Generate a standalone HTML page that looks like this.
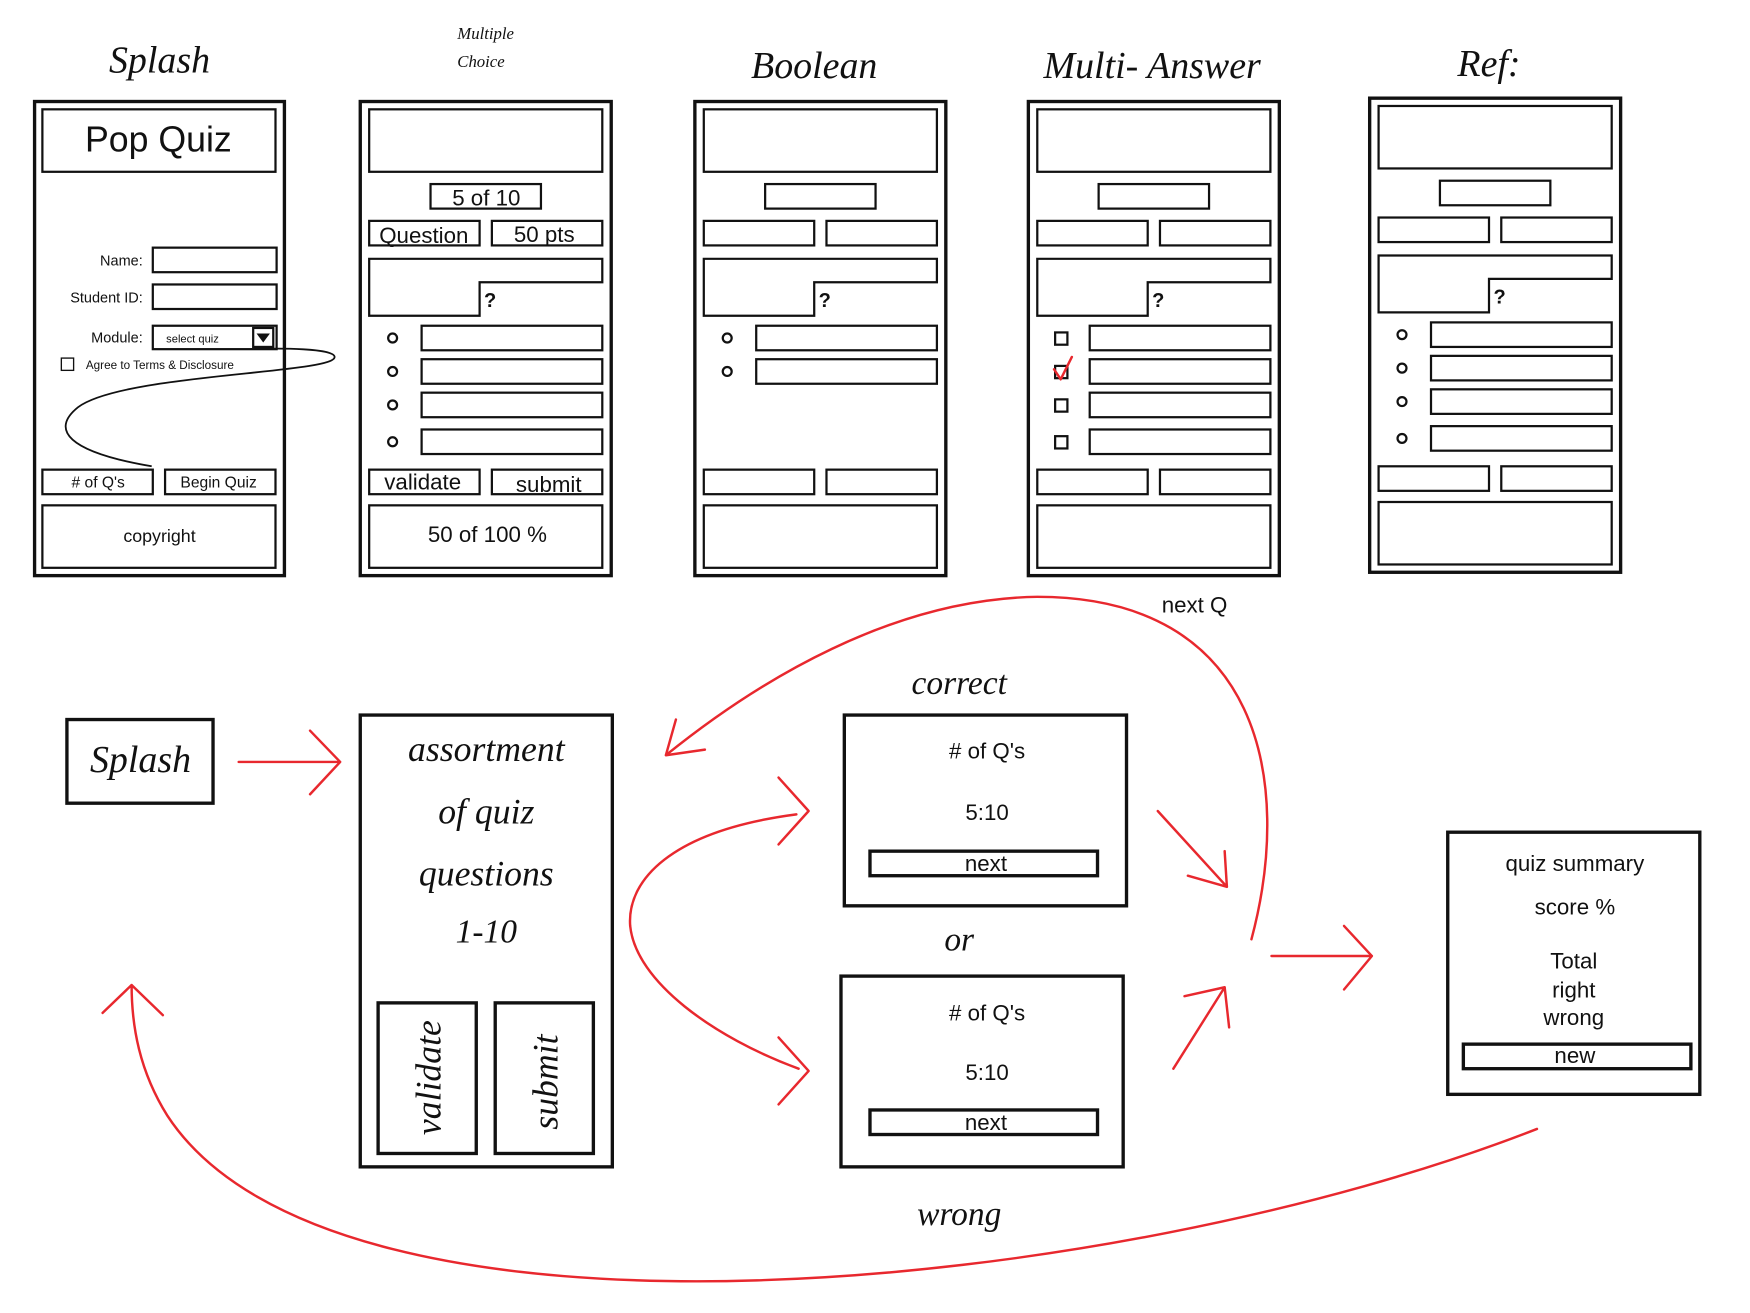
<!DOCTYPE html>
<html><head><meta charset="utf-8"><style>
html,body{margin:0;padding:0;background:#fff;}
svg{display:block;}
.s{font-family:"Liberation Serif",serif;font-style:italic;fill:#111;}
.t{font-family:"Liberation Sans",sans-serif;fill:#111;}
.b{fill:none;stroke:#111;stroke-width:2;}
.o{fill:none;stroke:#111;stroke-width:3;}
.r{fill:none;stroke:#e8282e;stroke-width:2.2;stroke-linecap:round;stroke-linejoin:round;}
</style></head><body>
<svg width="1750" height="1313" viewBox="0 0 1569 1177" preserveAspectRatio="none" xmlns="http://www.w3.org/2000/svg">
<rect width="1600" height="1200" fill="#fff"/>
<!-- titles -->
<text class="s" x="143" y="65" font-size="34" text-anchor="middle">Splash</text>
<text class="s" x="410" y="35" font-size="15">Multiple</text>
<text class="s" x="410" y="60" font-size="15">Choice</text>
<text class="s" x="730" y="70" font-size="34" text-anchor="middle">Boolean</text>
<text class="s" x="1033" y="70" font-size="34" text-anchor="middle">Multi- Answer</text>
<text class="s" x="1335" y="68" font-size="34" text-anchor="middle">Ref:</text>

<!-- phone 1 -->
<rect class="o" x="31" y="91" width="224" height="425"/>
<rect class="b" x="38" y="98" width="209" height="56"/>
<text class="t" x="142" y="136" font-size="32" text-anchor="middle">Pop Quiz</text>
<text class="t" x="128" y="238" font-size="13" text-anchor="end">Name:</text>
<rect class="b" x="137" y="222" width="111" height="22"/>
<text class="t" x="128" y="271" font-size="13" text-anchor="end">Student ID:</text>
<rect class="b" x="137" y="255" width="111" height="22"/>
<text class="t" x="128" y="307" font-size="13" text-anchor="end">Module:</text>
<rect class="b" x="137" y="292" width="111" height="21"/>
<text class="t" x="149" y="307" font-size="10">select quiz</text>
<rect class="b" x="227" y="294" width="18" height="17"/>
<polygon points="230,299 242,299 236,307" fill="#111"/>
<rect x="55" y="321" width="11" height="11" fill="none" stroke="#111" stroke-width="1.2"/>
<text class="t" x="77" y="331" font-size="10.5">Agree to Terms &amp; Disclosure</text>
<rect class="b" x="38" y="421" width="99" height="22"/>
<text class="t" x="88" y="437" font-size="14" text-anchor="middle"># of Q's</text>
<rect class="b" x="148" y="421" width="99" height="22"/>
<text class="t" x="196" y="437" font-size="14" text-anchor="middle">Begin Quiz</text>
<rect class="b" x="38" y="453" width="209" height="56"/>
<text class="t" x="143" y="486" font-size="16" text-anchor="middle">copyright</text>
<path d="M136,418 C60,405 45,385 70,365 C110,335 300,335 300,320 C300,312 250,312 225,313" fill="none" stroke="#111" stroke-width="1.6"/>

<!-- phone 2 -->
<g>
<rect class="o" x="323" y="91" width="225" height="425"/>
<rect class="b" x="331" y="98" width="209" height="56"/>
<rect class="b" x="386" y="165" width="99" height="22"/>
<text class="t" x="436" y="184" font-size="20" text-anchor="middle">5 of 10</text>
<rect class="b" x="331" y="198" width="99" height="22"/>
<text class="t" x="380" y="218" font-size="20" text-anchor="middle">Question</text>
<rect class="b" x="441" y="198" width="99" height="22"/>
<text class="t" x="488" y="217" font-size="20" text-anchor="middle">50 pts</text>
<polygon class="b" points="331,232 540,232 540,253 430,253 430,283 331,283"/>
<text class="t" x="434" y="275" font-size="18" font-weight="bold">?</text>
<circle cx="352" cy="303" r="4" class="b"/><rect class="b" x="378" y="292" width="162" height="22"/>
<circle cx="352" cy="333" r="4" class="b"/><rect class="b" x="378" y="322" width="162" height="22"/>
<circle cx="352" cy="363" r="4" class="b"/><rect class="b" x="378" y="352" width="162" height="22"/>
<circle cx="352" cy="396" r="4" class="b"/><rect class="b" x="378" y="385" width="162" height="22"/>
<rect class="b" x="331" y="421" width="99" height="22"/>
<text class="t" x="379" y="439" font-size="20" text-anchor="middle">validate</text>
<rect class="b" x="441" y="421" width="99" height="22"/>
<text class="t" x="492" y="441" font-size="20" text-anchor="middle">submit</text>
<rect class="b" x="331" y="453" width="209" height="56"/>
<text class="t" x="437" y="486" font-size="20" text-anchor="middle">50 of 100 %</text>
</g>

<!-- phone 3 -->
<g transform="translate(300,0)">
<rect class="o" x="323" y="91" width="225" height="425"/>
<rect class="b" x="331" y="98" width="209" height="56"/>
<rect class="b" x="386" y="165" width="99" height="22"/>
<rect class="b" x="331" y="198" width="99" height="22"/>
<rect class="b" x="441" y="198" width="99" height="22"/>
<polygon class="b" points="331,232 540,232 540,253 430,253 430,283 331,283"/>
<text class="t" x="434" y="275" font-size="18" font-weight="bold">?</text>
<circle cx="352" cy="303" r="4" class="b"/><rect class="b" x="378" y="292" width="162" height="22"/>
<circle cx="352" cy="333" r="4" class="b"/><rect class="b" x="378" y="322" width="162" height="22"/>
<rect class="b" x="331" y="421" width="99" height="22"/>
<rect class="b" x="441" y="421" width="99" height="22"/>
<rect class="b" x="331" y="453" width="209" height="56"/>
</g>

<!-- phone 4 -->
<g transform="translate(599,0)">
<rect class="o" x="323" y="91" width="225" height="425"/>
<rect class="b" x="331" y="98" width="209" height="56"/>
<rect class="b" x="386" y="165" width="99" height="22"/>
<rect class="b" x="331" y="198" width="99" height="22"/>
<rect class="b" x="441" y="198" width="99" height="22"/>
<polygon class="b" points="331,232 540,232 540,253 430,253 430,283 331,283"/>
<text class="t" x="434" y="275" font-size="18" font-weight="bold">?</text>
<rect class="b" x="347" y="298" width="11" height="11"/><rect class="b" x="378" y="292" width="162" height="22"/>
<rect class="b" x="347" y="328" width="11" height="11"/><rect class="b" x="378" y="322" width="162" height="22"/>
<rect class="b" x="347" y="358" width="11" height="11"/><rect class="b" x="378" y="352" width="162" height="22"/>
<rect class="b" x="347" y="391" width="11" height="11"/><rect class="b" x="378" y="385" width="162" height="22"/>
<path d="M346,331 L352,340 L362,320" class="r"/>
<rect class="b" x="331" y="421" width="99" height="22"/>
<rect class="b" x="441" y="421" width="99" height="22"/>
<rect class="b" x="331" y="453" width="209" height="56"/>
</g>

<!-- phone 5 -->
<g transform="translate(905,-3)">
<rect class="o" x="323" y="91" width="225" height="425"/>
<rect class="b" x="331" y="98" width="209" height="56"/>
<rect class="b" x="386" y="165" width="99" height="22"/>
<rect class="b" x="331" y="198" width="99" height="22"/>
<rect class="b" x="441" y="198" width="99" height="22"/>
<polygon class="b" points="331,232 540,232 540,253 430,253 430,283 331,283"/>
<text class="t" x="434" y="275" font-size="18" font-weight="bold">?</text>
<circle cx="352" cy="303" r="4" class="b"/><rect class="b" x="378" y="292" width="162" height="22"/>
<circle cx="352" cy="333" r="4" class="b"/><rect class="b" x="378" y="322" width="162" height="22"/>
<circle cx="352" cy="363" r="4" class="b"/><rect class="b" x="378" y="352" width="162" height="22"/>
<circle cx="352" cy="396" r="4" class="b"/><rect class="b" x="378" y="385" width="162" height="22"/>
<rect class="b" x="331" y="421" width="99" height="22"/>
<rect class="b" x="441" y="421" width="99" height="22"/>
<rect class="b" x="331" y="453" width="209" height="56"/>
</g>

<text class="t" x="1071" y="549" font-size="20" text-anchor="middle">next Q</text>

<!-- bottom flow -->
<rect class="o" x="60" y="645" width="131" height="75"/>
<text class="s" x="126" y="692" font-size="34" text-anchor="middle">Splash</text>

<rect class="o" x="323" y="641" width="226" height="405"/>
<text class="s" x="436" y="682" font-size="32" text-anchor="middle">assortment</text>
<text class="s" x="436" y="738" font-size="32" text-anchor="middle">of quiz</text>
<text class="s" x="436" y="794" font-size="32" text-anchor="middle">questions</text>
<text class="s" x="436" y="845" font-size="30" text-anchor="middle">1-10</text>
<rect class="o" x="339" y="899" width="88" height="135"/>
<rect class="o" x="444" y="899" width="88" height="135"/>
<text class="s" font-size="32" text-anchor="middle" transform="translate(395,966) rotate(-90)">validate</text>
<text class="s" font-size="32" text-anchor="middle" transform="translate(500,970) rotate(-90)">submit</text>

<text class="s" x="860" y="622" font-size="30" text-anchor="middle">correct</text>
<rect class="o" x="757" y="641" width="253" height="171"/>
<text class="t" x="885" y="680" font-size="20" text-anchor="middle"># of Q's</text>
<text class="t" x="885" y="735" font-size="20" text-anchor="middle">5:10</text>
<rect class="o" x="780" y="763" width="204" height="22"/>
<text class="t" x="884" y="781" font-size="20" text-anchor="middle">next</text>

<text class="s" x="860" y="852" font-size="30" text-anchor="middle">or</text>
<rect class="o" x="754" y="875" width="253" height="171"/>
<text class="t" x="885" y="915" font-size="20" text-anchor="middle"># of Q's</text>
<text class="t" x="885" y="968" font-size="20" text-anchor="middle">5:10</text>
<rect class="o" x="780" y="995" width="204" height="22"/>
<text class="t" x="884" y="1013" font-size="20" text-anchor="middle">next</text>

<text class="s" x="860" y="1098" font-size="30" text-anchor="middle">wrong</text>

<rect class="o" x="1298" y="746" width="226" height="235"/>
<text class="t" x="1412" y="781" font-size="20" text-anchor="middle">quiz summary</text>
<text class="t" x="1412" y="820" font-size="20" text-anchor="middle">score %</text>
<text class="t" x="1411" y="868" font-size="20" text-anchor="middle">Total</text>
<text class="t" x="1411" y="894" font-size="20" text-anchor="middle">right</text>
<text class="t" x="1411" y="919" font-size="20" text-anchor="middle">wrong</text>
<rect class="o" x="1312" y="936" width="204" height="22"/>
<text class="t" x="1412" y="953" font-size="20" text-anchor="middle">new</text>

<!-- red arrows -->
<path class="r" d="M214,683 L303,683 M278,655 L305,683 L278,712"/>
<path class="r" d="M1122,842 C1160,700 1130,535 930,535 C800,537 680,610 597,677 M606,645 L597,677 L632,672"/>
<path class="r" d="M714,730 C600,745 562,790 565,830 C570,880 640,930 716,958"/>
<path class="r" d="M698,697 L725,727 L698,757"/>
<path class="r" d="M698,930 L725,960 L698,990"/>
<path class="r" d="M1038,727 L1100,795 M1098,763 L1100,795 L1065,785"/>
<path class="r" d="M1052,958 L1098,885 M1062,893 L1098,885 L1102,921"/>
<path class="r" d="M1140,857 L1230,857 M1205,830 L1230,857 L1205,887"/>
<path class="r" d="M1378,1012 C1000,1160 300,1230 150,1000 C125,960 118,920 118,883 M92,908 L118,883 L146,910"/>
</svg>
</body></html>
